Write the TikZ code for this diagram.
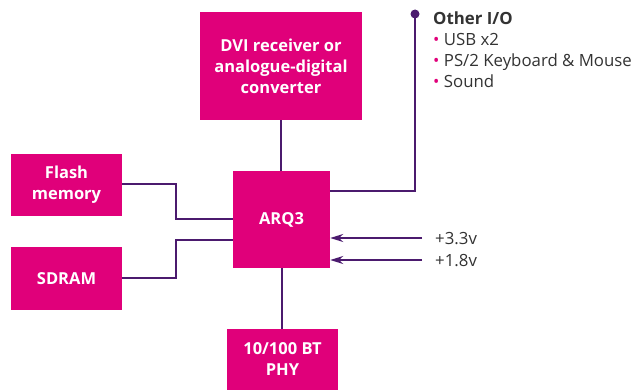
\documentclass[tikz,border=0pt]{standalone}
\usepackage{fontspec}
\setmainfont{Open Sans}
\usetikzlibrary{arrows.meta}
\definecolor{mag}{HTML}{E0007A}
\definecolor{pur}{HTML}{4B1A6E}
\definecolor{txt}{HTML}{333333}
\begin{document}
\begin{tikzpicture}[x=1pt,y=-1pt,
  blk/.style={fill=mag,text=white,font=\fontsize{16.5}{21}\selectfont\bfseries,align=center,inner sep=0pt},
  wire/.style={pur,line width=2pt},
  arr/.style={wire,-{Stealth[length=13pt,width=8pt]}},
  lbl/.style={text=txt,font=\fontsize{16.8}{21}\selectfont,inner sep=0pt}]
\useasboundingbox (0,0) rectangle (636,390);
\node[blk,minimum width=162pt,minimum height=108pt] (dvi) at (281,66) {DVI receiver or\\analogue-digital\\converter};
\node[blk,minimum width=111pt,minimum height=62pt] (flash) at (66.5,185) {Flash\\memory};
\node[blk,minimum width=111pt,minimum height=63pt] (sdram) at (66.5,278.5) {SDRAM};
\node[blk,minimum width=97pt,minimum height=97pt] (arq) at (281.5,219.5) {ARQ3};
\node[blk,minimum width=111pt,minimum height=61pt] (phy) at (282.5,359.5) {10/100 BT\\PHY};
\coordinate (io) at (415,14);
\coordinate (p33) at (422,238);
\coordinate (p18) at (422,260);
\draw[wire] (dvi.south) -- (dvi.south |- arq.north);
\draw[wire] (arq.south) -- (arq.south |- phy.north);
\draw[wire] (flash.east |- 0,184) -- (176,184) -- (176,219) -- (arq.west |- 0,219);
\draw[wire] (sdram.east |- 0,278) -- (176,278) -- (176,240) -- (arq.west |- 0,240);
\draw[wire] (arq.east |- 0,191) -- (io |- 0,191) -- (io);
\fill[pur] (io) circle (4.5pt);
\draw[arr] (p33) -- (arq.east |- p33);
\draw[arr] (p18) -- (arq.east |- p18);
\node[lbl,anchor=west] (l33) at (435,239) {+3.3v};
\node[lbl,anchor=west] (l18) at (435,261) {+1.8v};
\node[lbl,anchor=north west,align=left] (iot) at (433,11.5)
 {\textbf{Other I/O}\\
  \textcolor{mag}{\textbullet}\ USB x2\\
  \textcolor{mag}{\textbullet}\ PS/2 Keyboard \& Mouse\\
  \textcolor{mag}{\textbullet}\ Sound};
\end{tikzpicture}
\end{document}
